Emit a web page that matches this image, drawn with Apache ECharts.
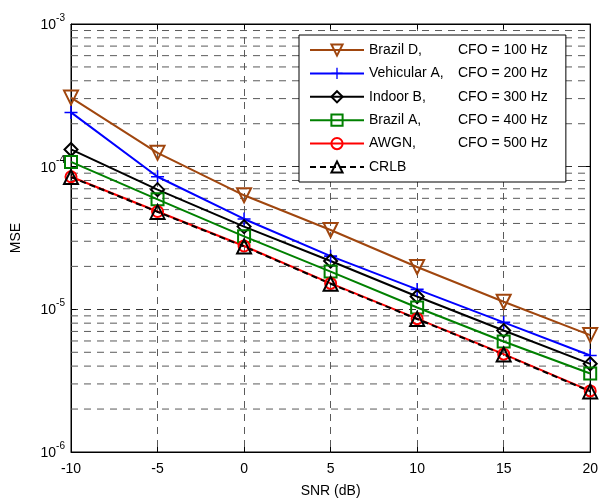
<!DOCTYPE html>
<html>
<head>
<meta charset="utf-8">
<script src="https://cdn.jsdelivr.net/npm/echarts@6/dist/echarts.min.js"></script>
<style>
  html, body { margin: 0; padding: 0; background: #fff; }
  #chart { width: 601px; height: 503px; }
</style>
</head>
<body>
<div id="chart"></div>
<script>
// SNR points (dB)
const snr = [-10, -5, 0, 5, 10, 15, 20]

// MSE
const brazilD = [3.05e-4, 1.25e-4, 6.3e-5, 3.6e-5, 1.98e-5, 1.13e-5, 6.6e-6]
const vehicularA = [2.4e-4, 8.5e-5, 4.3e-5, 2.36e-5, 1.38e-5, 8.1e-6, 4.75e-6]
const indoorB = [1.32e-4, 6.9e-5, 3.8e-5, 2.18e-5, 1.23e-5, 7.1e-6, 4.15e-6]
const brazilA = [1.08e-4, 5.9e-5, 3.25e-5, 1.84e-5, 1.03e-5, 5.95e-6, 3.55e-6]
const awgn = [8.5e-5, 4.85e-5, 2.78e-5, 1.52e-5, 8.6e-6, 4.85e-6, 2.68e-6]
const crlb = [8.45e-5, 4.82e-5, 2.76e-5, 1.51e-5, 8.55e-6, 4.82e-6, 2.66e-6]

const legendNames = ['Brazil D,', 'Vehicular A,', 'Indoor B,', 'Brazil A,', 'AWGN,', 'CRLB']
const legendCfo = ['CFO = 100 Hz', 'CFO = 200 Hz', 'CFO = 300 Hz', 'CFO = 400 Hz', 'CFO = 500 Hz', '']

// log minor grid lines (2..9 in each decade)
const decades = [1e-6, 1e-5, 1e-4]
const minorGrid = []
decades.forEach(d => { for (let m = 2; m <= 9; m++) minorGrid.push(m * d) })

const chart = echarts.init(document.getElementById('chart'))
const font = 'Liberation Sans, Arial, sans-serif'
const gridLine = { color: '#5a5a5a', width: 1, type: [7, 6] }
const majorLine = { color: '#333', width: 1, type: [7, 6] }

const pair = (ys) => snr.map((x, i) => [x, ys[i]])

const mkSeries = (name, ys, color, symbol, size, extra) => Object.assign({
  name,
  type: 'line',
  data: pair(ys),
  symbol,
  symbolSize: size,
  showSymbol: true,
  lineStyle: { color, width: 2 },
  itemStyle: { color: 'rgba(255,255,255,0)', borderColor: color, borderWidth: 2 },
  emphasis: { disabled: true },
  z: 3
}, extra || {})

const plus = 'path://M-1.2,-10H1.2V10H-1.2Z M-10,-1.2H10V1.2H-10Z'

// one dashed series per minor grid value, spanning the x range
const minorSeries = minorGrid.map((v, i) => ({
  name: 'grid' + i,
  type: 'line',
  data: [[snr[0], v], [snr[snr.length - 1], v]],
  showSymbol: false,
  symbol: 'none',
  silent: true,
  lineStyle: gridLine,
  emphasis: { disabled: true },
  z: 1
}))

const option = {
  animation: false,
  grid: { left: 71, right: 9, top: 24, bottom: 47, show: true, borderColor: '#000', borderWidth: 1 },
  legend: {
    orient: 'vertical',
    left: 299,
    top: 35,
    padding: [8, 18, 8, 10],
    backgroundColor: '#fff',
    borderColor: '#000',
    borderWidth: 1,
    itemWidth: 54,
    itemHeight: 14,
    itemGap: 9.4,
    data: legendNames,
    formatter: (name) => {
      const i = legendNames.indexOf(name)
      return '{a|' + name + '}{b|' + legendCfo[i] + '}'
    },
    textStyle: {
      fontFamily: font,
      fontSize: 14,
      color: '#000',
      rich: {
        a: { width: 89, fontFamily: font, fontSize: 14, color: '#000' },
        b: { fontFamily: font, fontSize: 14, color: '#000' }
      }
    }
  },
  xAxis: [{
    type: 'value',
    min: -10, max: 20, interval: 5,
    name: 'SNR (dB)',
    nameLocation: 'middle',
    nameGap: 32,
    nameTextStyle: { fontFamily: font, fontSize: 14, color: '#000' },
    axisLine: { show: true, onZero: false, lineStyle: { color: '#000' } },
    axisTick: { inside: true, length: 5, lineStyle: { color: '#000' } },
    axisLabel: { fontFamily: font, fontSize: 14, color: '#000', margin: 10 },
    splitLine: { show: true, lineStyle: gridLine }
  }, {
    type: 'value',
    position: 'top',
    min: -10, max: 20, interval: 5,
    axisLine: { show: true, onZero: false, lineStyle: { color: '#000' } },
    axisTick: { inside: true, length: 5, lineStyle: { color: '#000' } },
    axisLabel: { show: false },
    splitLine: { show: false }
  }],
  yAxis: [{
    type: 'log',
    logBase: 10,
    min: 1e-6, max: 1e-3,
    name: 'MSE',
    nameLocation: 'middle',
    nameGap: 48,
    nameTextStyle: { fontFamily: font, fontSize: 14, color: '#000' },
    axisLine: { show: true, onZero: false, lineStyle: { color: '#000' } },
    axisTick: { inside: true, length: 5, lineStyle: { color: '#000' } },
    axisLabel: {
      fontFamily: font, fontSize: 14, color: '#000', margin: 6,
      formatter: (v) => '{n|10}{s|' + Math.round(Math.log10(v)) + '}',
      rich: {
        n: { fontFamily: font, fontSize: 14, color: '#000', padding: [2, 0, 0, 0] },
        s: { fontFamily: font, fontSize: 10, color: '#000', padding: [0, 0, 12, 0] }
      }
    },
    splitLine: { show: true, lineStyle: majorLine }
  }, {
    type: 'log',
    logBase: 10,
    position: 'right',
    min: 1e-6, max: 1e-3,
    axisLine: { show: true, onZero: false, lineStyle: { color: '#000' } },
    axisTick: { inside: true, length: 5, lineStyle: { color: '#000' } },
    axisLabel: { show: false },
    splitLine: { show: false }
  }],
  series: minorSeries.concat([
    mkSeries('Brazil D,', brazilD, '#a0460e', 'triangle', 14, { symbolRotate: 180 }),
    mkSeries('Vehicular A,', vehicularA, '#0000ff', plus, 13,
      { itemStyle: { color: '#0000ff', borderWidth: 0 } }),
    mkSeries('Indoor B,', indoorB, '#000000', 'diamond', 13),
    mkSeries('Brazil A,', brazilA, '#008000', 'rect', 12),
    mkSeries('AWGN,', awgn, '#ff0000', 'circle', 11),
    mkSeries('CRLB', crlb, '#000000', 'triangle', 14,
      { lineStyle: { color: '#000', width: 2, type: [6, 4] } })
  ])
}

chart.setOption(option)
</script>
</body>
</html>
